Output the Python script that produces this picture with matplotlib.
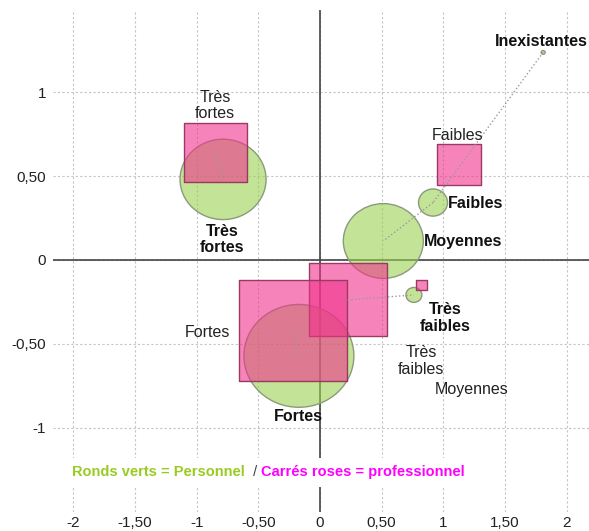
import numpy as np
import matplotlib
matplotlib.use("Agg")
import matplotlib.pyplot as plt
from matplotlib.path import Path
from matplotlib.markers import MarkerStyle
from matplotlib.transforms import Affine2D
from matplotlib.patches import Rectangle

plt.rcParams['font.family'] = ['Liberation Sans', 'DejaVu Sans']

# Ronds verts = Personnel
cat_perso = ["Inexistantes", "Faibles", "Moyennes", "Très faibles", "Fortes", "Très fortes"]
x_perso = [1.81, 0.917, 0.514, 0.762, -0.171, -0.786]
y_perso = [1.236, 0.342, 0.113, -0.208, -0.571, 0.480]
taille_perso = [4, 29, 80, 16, 110, 86]

# Carres roses = professionnel
cat_pro = ["Faibles", "Moyennes", "Très faibles", "Fortes", "Très fortes"]
x_pro = [1.127, 0.224, 0.822, -0.220, -0.844]
y_pro = [0.570, -0.238, -0.149, -0.420, 0.640]
taille_pro = [44, 78, 11, 108, 63]

# liaisons en pointilles
liens = [(("perso", "Inexistantes"), ("perso", "Faibles")),
         (("perso", "Faibles"), ("perso", "Moyennes")),
         (("pro", "Moyennes"), ("perso", "Très faibles")),
         (("pro", "Très fortes"), ("perso", "Très fortes")),
         (("pro", "Fortes"), ("perso", "Fortes"))]

xticks = [-2, -1.5, -1, -0.5, 0, 0.5, 1, 1.5, 2]
yticks = [-1, -0.5, 0, 0.5, 1]

# decalage des etiquettes (pixels)
dec_perso = {"Inexistantes": (-2, 11), "Faibles": (43, -1), "Moyennes": (80, 0),
             "Très faibles": (31, -23), "Fortes": (0, -61), "Très fortes": (-1, -60)}
dec_pro = {"Faibles": (-1, 29), "Moyennes": (124, -90), "Très faibles": (0, -76),
           "Fortes": (-85, -2), "Très fortes": (-1, 47)}

etire = Affine2D().scale(1.07, 1.0)
rond = MarkerStyle(Path.unit_circle().transformed(etire))
carre = MarkerStyle(Path([(-1, -1), (1, -1), (1, 1), (-1, 1), (-1, -1)],
                         [1, 2, 2, 2, 79]).transformed(etire))

def fmt(v):
    s = ("%g" % v) if v == int(v) else ("%.2f" % v)
    return s.replace(".", ",")

fig = plt.figure(figsize=(5.89, 5.31), dpi=100)
ax = fig.add_axes([0.09, 0.036, 0.91, 0.945])
ax.set_xlim(-2.165, 2.182)
ax.set_ylim(-1.5, 1.488)
for sp in ax.spines.values():
    sp.set_visible(False)

ax.set_xticks(xticks)
ax.set_xticklabels([fmt(v) for v in xticks])
ax.set_yticks(yticks)
ax.set_yticklabels([fmt(v) for v in yticks])
ax.tick_params(length=0, labelsize=11, labelcolor="#222222")
ax.tick_params(axis="x", pad=3)
ax.tick_params(axis="y", pad=5)
ax.grid(True, color="#c4c4c4", linestyle=(0, (2, 2)), linewidth=0.8)
ax.set_axisbelow(True)

ax.axhline(0, color="#444444", lw=1.2, zorder=1)
ax.axvline(0, color="#444444", lw=1.2, zorder=1)

px2s = lambda d: (np.array(d) * 0.72) ** 2
ax.scatter(x_perso, y_perso, s=px2s(taille_perso), marker=rond,
           facecolor=(155/255, 210/255, 80/255, 0.6), edgecolor="#8a9a7c",
           linewidth=1, zorder=2)
ax.scatter(x_pro, y_pro, s=px2s(taille_pro), marker=carre,
           facecolor=(240/255, 50/255, 140/255, 0.6), edgecolor="#9a3a62",
           linewidth=1, zorder=3)

pos = {}
for c, x, y in zip(cat_perso, x_perso, y_perso):
    pos[("perso", c)] = (x, y)
for c, x, y in zip(cat_pro, x_pro, y_pro):
    pos[("pro", c)] = (x, y)
for a, b in liens:
    ax.plot([pos[a][0], pos[b][0]], [pos[a][1], pos[b][1]], ls=":",
            color="#9a9a9a", lw=1, zorder=4)

for c, x, y in zip(cat_perso, x_perso, y_perso):
    ax.annotate(c.replace(" ", "\n"), (x, y), xytext=dec_perso[c],
                textcoords="offset pixels", ha="center", va="center",
                fontsize=11.5, fontweight="bold", color="#111111",
                linespacing=1.1, zorder=5)
for c, x, y in zip(cat_pro, x_pro, y_pro):
    ax.annotate(c.replace(" ", "\n"), (x, y), xytext=dec_pro[c],
                textcoords="offset pixels", ha="center", va="center",
                fontsize=11.5, color="#222222", linespacing=1.1, zorder=5)

# fond blanc de la legende
ax.add_patch(Rectangle((0.024, 0.05), 0.758, 0.058, transform=ax.transAxes,
                       facecolor="white", edgecolor="none", zorder=6))
t1 = ax.text(0.035, 0.08, "Ronds verts = Personnel ", transform=ax.transAxes,
             ha="left", va="center", fontsize=10.5, fontweight="bold",
             color="#99cc22", zorder=7)
t2 = ax.annotate(" / ", xy=(1, 0.5), xycoords=t1, ha="left", va="center",
                 fontsize=10.5, color="#444444", zorder=7)
t3 = ax.annotate("Carrés roses = professionnel", xy=(1, 0.5), xycoords=t2,
                 ha="left", va="center", fontsize=10.5, fontweight="bold",
                 color="#ff00ff", zorder=7)

fig.savefig("out.png", dpi=100)
